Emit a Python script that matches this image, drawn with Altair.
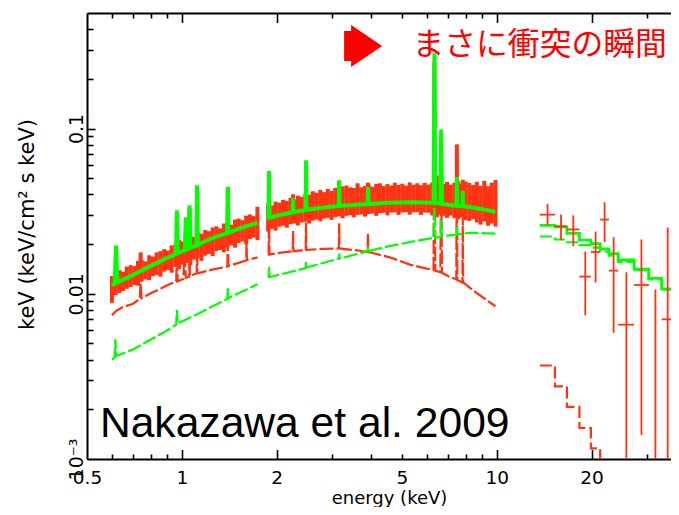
import altair as alt
import pandas as pd

RED = "#ff3311"
GREEN = "#00ff00"
FONT = "DejaVu Sans"

# ---------------- XIS data (red error bars): energy, lower, upper ----------------
xis_e = [0.600, 0.617, 0.634, 0.651, 0.669, 0.688, 0.707, 0.726, 0.746, 0.767,
         0.788, 0.810, 0.832, 0.855, 0.879, 0.903, 0.928, 0.954, 0.980, 1.007,
         1.035, 1.064, 1.093, 1.123, 1.154, 1.186, 1.219, 1.253, 1.288, 1.323,
         1.360, 1.397, 1.436, 1.476, 1.516, 1.558, 1.601, 1.646, 1.691, 1.738,
         1.880, 1.932, 1.985, 2.040, 2.097, 2.155, 2.214, 2.275, 2.338, 2.403,
         2.469, 2.537, 2.607, 2.679, 2.753, 2.829, 2.908, 2.988, 3.070, 3.155,
         3.242, 3.332, 3.424, 3.518, 3.615, 3.715, 3.818, 3.923, 4.032, 4.143,
         4.257, 4.375, 4.496, 4.620, 4.747, 4.878, 5.013, 5.152, 5.294, 5.440,
         5.590, 5.745, 5.903, 6.066, 6.234, 6.450, 6.583, 6.765, 6.952, 7.144,
         7.341, 7.544, 7.752, 7.967, 8.187, 8.413, 8.646, 8.885, 9.130, 9.382,
         9.641, 9.908]
xis_lo = [0.0088, 0.0098, 0.0101, 0.0104, 0.0107, 0.0110, 0.0113, 0.0112, 0.0119, 0.0122,
          0.0121, 0.0128, 0.0130, 0.0127, 0.0136, 0.0139, 0.0134, 0.0145, 0.0141, 0.0150,
          0.0153, 0.0149, 0.0161, 0.0164, 0.0158, 0.0170, 0.0174, 0.0169, 0.0181, 0.0184,
          0.0178, 0.0191, 0.0196, 0.0190, 0.0203, 0.0207, 0.0199, 0.0214, 0.0219, 0.0211,
          0.0238, 0.0247, 0.0241, 0.0254, 0.0258, 0.0251, 0.0264, 0.0266, 0.0259, 0.0270,
          0.0273, 0.0266, 0.0277, 0.0281, 0.0274, 0.0285, 0.0288, 0.0280, 0.0291, 0.0294,
          0.0286, 0.0296, 0.0299, 0.0290, 0.0300, 0.0302, 0.0293, 0.0304, 0.0306, 0.0296,
          0.0307, 0.0309, 0.0298, 0.0310, 0.0311, 0.0300, 0.0310, 0.0312, 0.0301, 0.0311,
          0.0312, 0.0300, 0.0310, 0.0309, 0.0298, 0.0290, 0.0302, 0.0296, 0.0288, 0.0297,
          0.0286, 0.0282, 0.0290, 0.0279, 0.0276, 0.0283, 0.0270, 0.0262, 0.0274, 0.0258,
          0.0266, 0.0255]
xis_hi = [0.0128, 0.0131, 0.0139, 0.0136, 0.0146, 0.0149, 0.0147, 0.0158, 0.0160, 0.0157,
          0.0171, 0.0168, 0.0178, 0.0181, 0.0186, 0.0183, 0.0196, 0.0199, 0.0212, 0.0207,
          0.0219, 0.0225, 0.0221, 0.0236, 0.0231, 0.0243, 0.0239, 0.0252, 0.0256, 0.0249,
          0.0266, 0.0270, 0.0262, 0.0281, 0.0285, 0.0279, 0.0297, 0.0302, 0.0295, 0.0336,
          0.0352, 0.0343, 0.0361, 0.0356, 0.0370, 0.0365, 0.0381, 0.0374, 0.0392, 0.0386,
          0.0405, 0.0398, 0.0417, 0.0409, 0.0425, 0.0412, 0.0431, 0.0419, 0.0438, 0.0426,
          0.0447, 0.0452, 0.0441, 0.0437, 0.0466, 0.0441, 0.0449, 0.0458, 0.0444, 0.0462,
          0.0466, 0.0449, 0.0461, 0.0452, 0.0470, 0.0455, 0.0463, 0.0451, 0.0472, 0.0457,
          0.0466, 0.0454, 0.0469, 0.0458, 0.0470, 0.0520, 0.0470, 0.0462, 0.0475, 0.0458,
          0.0470, 0.0480, 0.0462, 0.0478, 0.0468, 0.0455, 0.0476, 0.0450, 0.0482, 0.0447,
          0.0470, 0.0488]
# bins sitting on emission lines
line_e = [0.618, 0.740, 0.965, 1.058, 1.118, 1.400, 1.892, 2.256, 2.480, 3.160, 3.900, 6.340, 6.660, 7.470, 7.800]
line_lo = [0.0105, 0.0118, 0.0150, 0.0160, 0.0170, 0.0200, 0.0250, 0.0270, 0.0285, 0.0300, 0.0305, 0.1000, 0.0420, 0.0380, 0.0320]
line_hi = [0.0190, 0.0178, 0.0310, 0.0330, 0.0440, 0.0440, 0.0540, 0.0400, 0.0500, 0.0480, 0.0470, 0.2500, 0.0850, 0.0800, 0.0490]

# ---------------- total model (thick green) ----------------
model_e = [0.600, 0.612, 0.618, 0.624, 0.700, 0.800, 0.900, 0.958, 0.965, 0.972,
           1.022, 1.030, 1.038, 1.052, 1.058, 1.064, 1.112, 1.118, 1.124, 1.200,
           1.300, 1.393, 1.400, 1.407, 1.500, 1.600, 1.740,
           1.880, 1.886, 1.892, 1.898, 2.000, 2.250, 2.256, 2.262, 2.473, 2.480, 2.487,
           3.000, 3.152, 3.160, 3.168, 3.890, 3.900, 3.910, 4.500, 5.000, 5.500, 6.000,
           6.300, 6.340, 6.380, 6.620, 6.660, 6.700, 7.000, 7.440, 7.470, 7.500,
           7.780, 7.800, 7.820, 8.230, 9.000, 9.900]
model_f = [0.0113, 0.0115, 0.0196, 0.0117, 0.0130, 0.0148, 0.0165, 0.0174, 0.0320, 0.0176,
           0.0184, 0.0290, 0.0186, 0.0188, 0.0343, 0.0189, 0.0196, 0.0453, 0.0197, 0.0210,
           0.0223, 0.0233, 0.0443, 0.0234, 0.0245, 0.0256, 0.0269,
           0.0286, 0.0287, 0.0553, 0.0288, 0.0297, 0.0311, 0.0378, 0.0312, 0.0321, 0.0642, 0.0322,
           0.0337, 0.0339, 0.0486, 0.0340, 0.0349, 0.0443, 0.0349, 0.0355, 0.0357, 0.0358, 0.0356,
           0.0355, 0.2850, 0.0355, 0.0352, 0.0986, 0.0350, 0.0346, 0.0341, 0.0509, 0.0341,
           0.0338, 0.0420, 0.0338, 0.0335, 0.0325, 0.0313]

# ---------------- cooler component (red, dashed) ----------------
cool_e = [0.600, 0.620, 0.650, 0.700, 0.735, 0.740, 0.745, 0.800, 0.870, 0.920,
          0.960, 0.965, 0.970, 1.010, 1.020, 1.030, 1.055, 1.058, 1.061, 1.115,
          1.118, 1.121, 1.250, 1.395, 1.400, 1.405, 1.550, 1.600, 1.605, 1.610, 1.740,
          1.880, 1.886, 1.892, 1.898, 2.100, 2.250, 2.256, 2.262, 2.400, 2.474,
          2.480, 2.486, 2.800, 3.150, 3.160, 3.170, 3.600, 3.890, 3.900, 3.910,
          4.580, 5.300, 5.900, 6.300, 6.340, 6.380, 6.620, 6.660, 6.700, 7.000,
          7.440, 7.470, 7.500, 7.780, 7.800, 7.820, 8.700, 9.900]
cool_f = [0.0074, 0.0079, 0.0083, 0.0087, 0.0093, 0.0116, 0.0094, 0.0101, 0.0109, 0.0115,
          0.0118, 0.0200, 0.0119, 0.0123, 0.0170, 0.0125, 0.0127, 0.0210, 0.0128, 0.0133,
          0.0240, 0.0133, 0.0140, 0.0146, 0.0225, 0.0147, 0.0156, 0.0159, 0.0200, 0.0160, 0.0166,
          0.0172, 0.0172, 0.0330, 0.0173, 0.0178, 0.0181, 0.0240, 0.0181, 0.0183, 0.0184,
          0.0270, 0.0184, 0.0187, 0.0188, 0.0267, 0.0188, 0.0183, 0.0179, 0.0235, 0.0179,
          0.0166, 0.0150, 0.0143, 0.0139, 0.2200, 0.0138, 0.0135, 0.0600, 0.0134, 0.0128,
          0.0122, 0.0800, 0.0121, 0.0117, 0.0290, 0.0117, 0.0100, 0.0084]

# ---------------- hotter component (green, dashed) ----------------
hot_e = [0.600, 0.612, 0.615, 0.620, 0.700, 0.800, 0.900, 0.960, 0.965, 0.970,
         1.100, 1.300, 1.395, 1.400, 1.405, 1.740,
         1.880, 1.886, 1.892, 1.898, 2.300, 2.474, 2.480, 2.486, 3.155, 3.160,
         3.165, 3.895, 3.900, 3.905, 4.600, 5.500, 6.300, 6.340, 6.380, 6.640,
         6.660, 6.680, 7.460, 7.470, 7.480, 8.200, 9.000, 9.900]
hot_f = [0.0040, 0.0041, 0.0053, 0.0042, 0.0046, 0.0053, 0.0060, 0.0065, 0.0080, 0.0066,
         0.0074, 0.0087, 0.0093, 0.0110, 0.0094, 0.0114,
         0.0125, 0.0126, 0.0145, 0.0126, 0.0138, 0.0143, 0.0156, 0.0144, 0.0163, 0.0175,
         0.0163, 0.0181, 0.0193, 0.0181, 0.0195, 0.0208, 0.0218, 0.0330, 0.0218, 0.0222,
         0.0280, 0.0222, 0.0228, 0.0255, 0.0228, 0.0234, 0.0233, 0.0231]

# ---------------- HXD ----------------
hxd_edges = [13.7, 15.3, 16.7, 18.3, 19.9, 21.3, 22.7, 24.3, 27.3, 30.4, 33.4, 36.5, 40.3]
hxd_e = [14.5, 16.0, 17.5, 19.1, 20.6, 22.0, 23.5, 25.8, 28.8, 31.9, 34.9, 37.3]
hxd_f = [0.0301, 0.0256, 0.0245, 0.0127, 0.0179, 0.0281, 0.0138, 0.0065, 0.0113, 0.0004, 0.0070, 0.0142]
hxd_lo = [0.0259, 0.0211, 0.0194, 0.0074, 0.0117, 0.0205, 0.0058, 0.0002, 0.0014, 0.0001, 0.0001, 0.0001]
hxd_hi = [0.0349, 0.0302, 0.0298, 0.0180, 0.0238, 0.0358, 0.0220, 0.0135, 0.0213, 0.0106, 0.0252, 0.0435]
hxd_model = [0.0259, 0.0254, 0.0232, 0.0211, 0.0201, 0.0187, 0.0175, 0.0160, 0.0141, 0.0124, 0.0107, 0.0094]
hxd_hot = [0.0222, 0.0213, 0.0205, 0.0197, 0.0190, 0.0180, 0.0170, 0.0156, 0.0139, 0.0122, 0.0106, 0.0093]
hxd_cool = [0.00368, 0.00275, 0.00207, 0.00154, 0.00116, 0.00088, 0.00068]

# axis ticks / labels
x_labels = [0.5, 1, 2, 5, 10, 20]
x_major = [1, 2, 10, 20]
x_minor = [0.6, 0.7, 0.8, 0.9, 3, 4, 5, 6, 7, 8, 9, 30]
y_labels = [0.001, 0.01, 0.1]
y_major = [0.01, 0.1]
y_minor = [0.002, 0.003, 0.004, 0.005, 0.006, 0.007, 0.008, 0.009,
           0.02, 0.03, 0.04, 0.05, 0.06, 0.07, 0.08, 0.09, 0.2, 0.3, 0.4]

# annotations
cite_text = ["Nakazawa et al. 2009"]
cite_x = [0.5495]
cite_y = [0.001352]
jp_text = ["まさに衝突の瞬間"]
jp_x = [5.40]
jp_y = [0.2802]
arrow_x = [3.764]
arrow_y = [0.3153]

# ---------------- build ----------------
xs = alt.Scale(type="log", domain=[0.5, 35.75], nice=False)
ys = alt.Scale(type="log", domain=[0.001, 0.5], nice=False)

common = dict(grid=False, domainColor="black", tickColor="black", domainWidth=2, tickWidth=1.6)


def tick_axis(orient, values, size):
    return alt.Axis(orient=orient, values=values, offset=-size, tickSize=size, domain=False,
                    labels=False, title=None, **common)


ax_bottom = alt.Axis(orient="bottom", values=x_labels, format="~g", ticks=False, tickSize=0,
                     labelFont=FONT, labelFontSize=18.5, labelColor="black", labelPadding=24,
                     labelBaseline="alphabetic", labelAlign="center", labelFlush=False,
                     labelOverlap=False, title="energy (keV)", titleFont=FONT, titleFontSize=18,
                     titleFontWeight="normal", titleColor="black", titleX=302, titleY=44,
                     titleAlign="center", titleBaseline="alphabetic", **common)
ax_left = alt.Axis(orient="left", values=y_labels,
                   labelExpr="datum.value < 0.005 ? '10⁻³' : (datum.value < 0.05 ? '0.01' : '0.1')",
                   ticks=False, tickSize=0, labelAngle=270, labelAlign="center",
                   labelBaseline="alphabetic", labelPadding=5, labelFont=FONT, labelFontSize=19,
                   labelColor="black", labelFlush=False, labelOverlap=False,
                   title="keV (keV/cm² s keV)", titleAngle=270, titleX=-54, titleY=211,
                   titleAlign="center", titleBaseline="alphabetic", titleFont=FONT,
                   titleFontSize=21, titleFontWeight="normal", titleColor="black", **common)
ax_top = alt.Axis(orient="top", ticks=False, labels=False, title=None, **common)


def segs(e):
    return [1 if v < 1.8 else 2 for v in e]


xis_df = pd.DataFrame({"e": xis_e + line_e, "lo": xis_lo + line_lo, "hi": xis_hi + line_hi})
model_df = pd.DataFrame({"e": model_e, "f": model_f, "seg": segs(model_e)})
cool_df = pd.DataFrame({"e": cool_e, "f": cool_f, "seg": segs(cool_e)})
hot_df = pd.DataFrame({"e": hot_e, "f": hot_f, "seg": segs(hot_e)})

hxd_df = pd.DataFrame({"e": hxd_e, "f": hxd_f, "lo": hxd_lo, "hi": hxd_hi,
                       "x1": hxd_edges[:-1], "x2": hxd_edges[1:]})
step_model = pd.DataFrame({"e": hxd_edges, "f": hxd_model + [hxd_model[-1]]})
step_hot = pd.DataFrame({"e": hxd_edges, "f": hxd_hot + [hxd_hot[-1]]})
step_cool = pd.DataFrame({"e": hxd_edges[:len(hxd_cool) + 1], "f": hxd_cool + [hxd_cool[-1]]})

l_xis = alt.Chart(xis_df).mark_rule(color=RED, strokeWidth=4, clip=True).encode(
    x=alt.X("e:Q", scale=xs, axis=ax_bottom),
    y=alt.Y("lo:Q", scale=ys, axis=ax_left),
    y2="hi:Q")

l_cool = alt.Chart(cool_df).mark_line(color=RED, strokeWidth=2.2, strokeDash=[14, 3], clip=True).encode(
    x=alt.X("e:Q", scale=xs, axis=tick_axis("bottom", x_major, 9.5)),
    y=alt.Y("f:Q", scale=ys, axis=tick_axis("left", y_major, 8)),
    detail="seg:N")

l_hot = alt.Chart(hot_df).mark_line(color=GREEN, strokeWidth=2.2, strokeDash=[14, 3], clip=True).encode(
    x=alt.X("e:Q", scale=xs, axis=tick_axis("bottom", x_minor, 5)),
    y=alt.Y("f:Q", scale=ys, axis=tick_axis("left", y_minor, 6)),
    detail="seg:N")

l_model = alt.Chart(model_df).mark_line(color=GREEN, strokeWidth=4, clip=True).encode(
    x=alt.X("e:Q", scale=xs, axis=ax_top),
    y=alt.Y("f:Q", scale=ys, axis=None),
    detail="seg:N")

l_hxd_hot = alt.Chart(step_hot).mark_line(color=GREEN, strokeWidth=2.2, strokeDash=[12, 4],
                                          interpolate="step-after", clip=True).encode(
    x=alt.X("e:Q", scale=xs, axis=tick_axis("top", x_minor, 5)),
    y=alt.Y("f:Q", scale=ys, axis=None))

l_hxd_cool = alt.Chart(step_cool).mark_line(color=RED, strokeWidth=2.2, strokeDash=[12, 4],
                                            interpolate="step-after", clip=True).encode(
    x=alt.X("e:Q", scale=xs, axis=None),
    y=alt.Y("f:Q", scale=ys, axis=None))

l_hxd_model = alt.Chart(step_model).mark_line(color=GREEN, strokeWidth=2.8,
                                              interpolate="step-after", clip=True).encode(
    x=alt.X("e:Q", scale=xs, axis=tick_axis("top", x_major, 9.5)),
    y=alt.Y("f:Q", scale=ys, axis=None))

l_hxd_v = alt.Chart(hxd_df).mark_rule(color=RED, strokeWidth=1.8, clip=True).encode(
    x=alt.X("e:Q", scale=xs, axis=None),
    y=alt.Y("lo:Q", scale=ys, axis=None),
    y2="hi:Q")

l_hxd_h = alt.Chart(hxd_df).mark_rule(color=RED, strokeWidth=1.8, clip=True).encode(
    x=alt.X("x1:Q", scale=xs, axis=None),
    x2="x2:Q",
    y=alt.Y("f:Q", scale=ys, axis=None))

cite_df = pd.DataFrame({"x": cite_x, "y": cite_y, "t": cite_text})
l_cite = alt.Chart(cite_df).mark_text(align="left", baseline="alphabetic", font="Liberation Sans",
                                      fontSize=42.6, color="black").encode(
    x=alt.X("x:Q", scale=xs, axis=None),
    y=alt.Y("y:Q", scale=ys, axis=None),
    text="t:N")

jp_df = pd.DataFrame({"x": jp_x, "y": jp_y, "t": jp_text})
l_jp = alt.Chart(jp_df).mark_text(align="left", baseline="alphabetic", font="Noto Sans CJK JP",
                                  fontSize=31.8, color="#ff0000").encode(
    x=alt.X("x:Q", scale=xs, axis=None),
    y=alt.Y("y:Q", scale=ys, axis=None),
    text="t:N")

ARROW = "M-0.905,-0.714L-0.571,-0.714L-0.571,-1L0.905,0L-0.571,1L-0.571,0.714L-0.905,0.714Z"
arrow_df = pd.DataFrame({"x": arrow_x, "y": arrow_y})
l_arrow = alt.Chart(arrow_df).mark_point(shape=ARROW, filled=True, size=1764, color="#ff0000",
                                         opacity=1, strokeWidth=0).encode(
    x=alt.X("x:Q", scale=xs, axis=None),
    y=alt.Y("y:Q", scale=ys, axis=None))

chart = alt.layer(
    l_xis, l_cool, l_hot, l_model, l_hxd_hot, l_hxd_cool, l_hxd_model, l_hxd_v, l_hxd_h,
    l_cite, l_jp, l_arrow
).resolve_axis(x="independent", y="independent").properties(
    width=584, height=446,
    padding={"left": 79, "top": 5, "right": 0, "bottom": 48},
    autosize=alt.AutoSizeParams(type="none"),
    background="white",
).configure_view(strokeWidth=0)

chart.save("out.html", embed_options={"renderer": "svg", "actions": False})
